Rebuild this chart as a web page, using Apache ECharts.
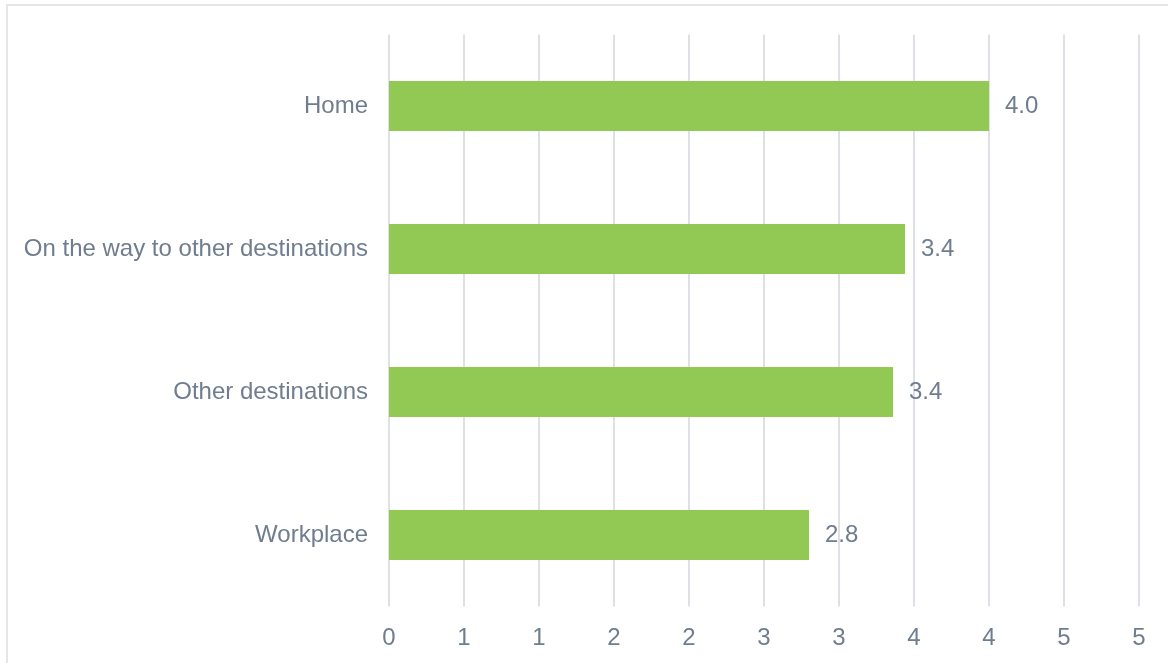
<!DOCTYPE html>
<html>
<head>
<meta charset="utf-8">
<script src="https://cdn.jsdelivr.net/npm/echarts@6/dist/echarts.min.js"></script>
<style>
  html, body { margin: 0; padding: 0; width: 1168px; height: 663px; overflow: hidden; background: #fff; }
  #frame { position: absolute; left: 6px; top: 4px; width: 1200px; height: 700px; border: 2px solid #E4E6E9; box-sizing: border-box; }
  #chart { position: absolute; left: 0; top: 0; width: 1168px; height: 663px; }
</style>
</head>
<body>
<div id="frame"></div>
<div id="chart"></div>
<script>
// Places where charging happens, average rating
const categories = ['Home', 'On the way to other destinations', 'Other destinations', 'Workplace'];
const values = [4.0, 3.44, 3.36, 2.8];
// Tick labels at every 0.5 step, shown rounded to whole numbers
const tickLabels = ['0', '1', '1', '2', '2', '3', '3', '4', '4', '5', '5'];

const textColor = '#6F7D8E';
const fontFamily = '"Liberation Sans", Arial, sans-serif';

const chart = echarts.init(document.getElementById('chart'), null, { renderer: 'canvas' });
chart.setOption({
  animation: false,
  backgroundColor: 'transparent',
  grid: { left: 389, right: 29, top: 34.5, bottom: 56.5, containLabel: false, outerBoundsMode: 'none' },
  xAxis: {
    type: 'value',
    min: 0,
    max: 5,
    interval: 0.5,
    axisLine: { show: false },
    axisTick: { show: false },
    splitLine: { show: true, lineStyle: { color: '#DDE1E6', width: 2 } },
    axisLabel: {
      color: textColor,
      fontFamily: fontFamily,
      fontSize: 24,
      margin: 20,
      formatter: v => tickLabels[Math.round(v / 0.5)]
    }
  },
  yAxis: {
    type: 'category',
    data: categories,
    inverse: true,
    axisLine: { show: false },
    axisTick: { show: false },
    splitLine: { show: false },
    axisLabel: {
      color: textColor,
      fontFamily: fontFamily,
      fontSize: 24,
      margin: 21,
      padding: [4, 0, 0, 0]
    }
  },
  series: [{
    type: 'bar',
    data: values,
    barWidth: 50,
    itemStyle: { color: '#92C955' },
    label: {
      show: true,
      position: 'right',
      distance: 16,
      color: textColor,
      fontFamily: fontFamily,
      fontSize: 24,
      padding: [4, 0, 0, 0],
      formatter: p => p.value.toFixed(1)
    }
  }]
});
</script>
</body>
</html>
